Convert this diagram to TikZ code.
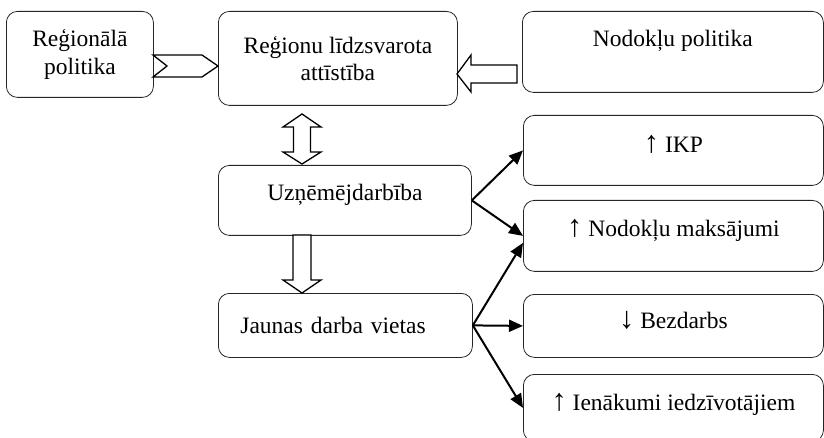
\documentclass[tikz,border=0pt]{standalone}
\usepackage{fontspec}
\setmainfont{Liberation Serif}
\usetikzlibrary{arrows.meta}
\newcommand{\upar}{\scalebox{1.3}{↑}}
\newcommand{\downar}{\scalebox{1.3}{↓}}
\begin{document}
\begin{tikzpicture}[x=1pt,y=-1pt,
    box/.style={draw=black!85, line width=0.8pt, rounded corners=11pt, anchor=north west,
      inner sep=0pt, align=center, font=\fontsize{23.5}{27.5}\selectfont},
    link/.style={line width=2pt, -{Triangle[length=14pt,width=12pt]}},
    hollow/.style={draw, line width=1.3pt, fill=white, line join=miter}]
  \clip (0,0) rectangle (824,438);
  % top row
  \node[box, minimum width=147pt, minimum height=86pt] (reg) at (6,11) {Reģionālā\\politika};
  \node[box, minimum width=239pt, minimum height=94pt] (lidz) at (218,11) {Reģionu līdzsvarota\\attīstība};
  \node[box, minimum width=301pt, text height=35pt, text depth=46pt] (nodpol) at (522,11) {Nodokļu politika};
  % middle column
  \node[box, minimum width=253pt, text height=35pt, text depth=35pt] (uzn) at (218,165) {Uzņēmējdarbība};
  \node[box, inner xsep=22pt, text width=210pt, align=left, text height=40pt, text depth=24pt] (jaun) at (218,293) {Jaunas darba vietas};
  % results
  \node[box, minimum width=300pt, text height=37pt, text depth=33pt] (ikp) at (523,115) {\upar{} IKP};
  \node[box, minimum width=300pt, text height=36pt, text depth=35pt] (nmaks) at (523,200) {\upar{} Nodokļu maksājumi};
  \node[box, minimum width=300pt, text height=34pt, text depth=29pt] (bezd) at (523,294) {\downar{} Bezdarbs};
  \node[box, minimum width=300pt, text height=36pt, text depth=31pt] (ienak) at (523,374) {\upar{} Ienākumi iedzīvotājiem};
  % hollow arrows
  \draw[hollow] (153,55) -- (202,55) -- (218,66) -- (202,77) -- (153,77) -- (167,66) -- cycle;
  \draw[hollow] (517,65) -- (471,65) -- (471,55) -- (457,74) -- (471,92) -- (471,83) -- (517,83) -- cycle;
  \draw[hollow] (302,114) -- (321,127) -- (310.5,127) -- (310.5,152) -- (321,152) -- (302,164)
    -- (283,152) -- (293.5,152) -- (293.5,127) -- (283,127) -- cycle;
  \draw[hollow] (293,235) -- (311,235) -- (311,280) -- (321,280) -- (302,293) -- (283,280) -- (293,280) -- cycle;
  % effects
  \draw[link] (uzn.east) -- (ikp.west);
  \draw[link] (uzn.east) -- (nmaks.west);
  \draw[link] (jaun.east) -- ([yshift=-7pt]nmaks.west);
  \draw[link] (jaun.east) -- (bezd.west);
  \draw[link] (jaun.east) -- (ienak.west);
\end{tikzpicture}
\end{document}
